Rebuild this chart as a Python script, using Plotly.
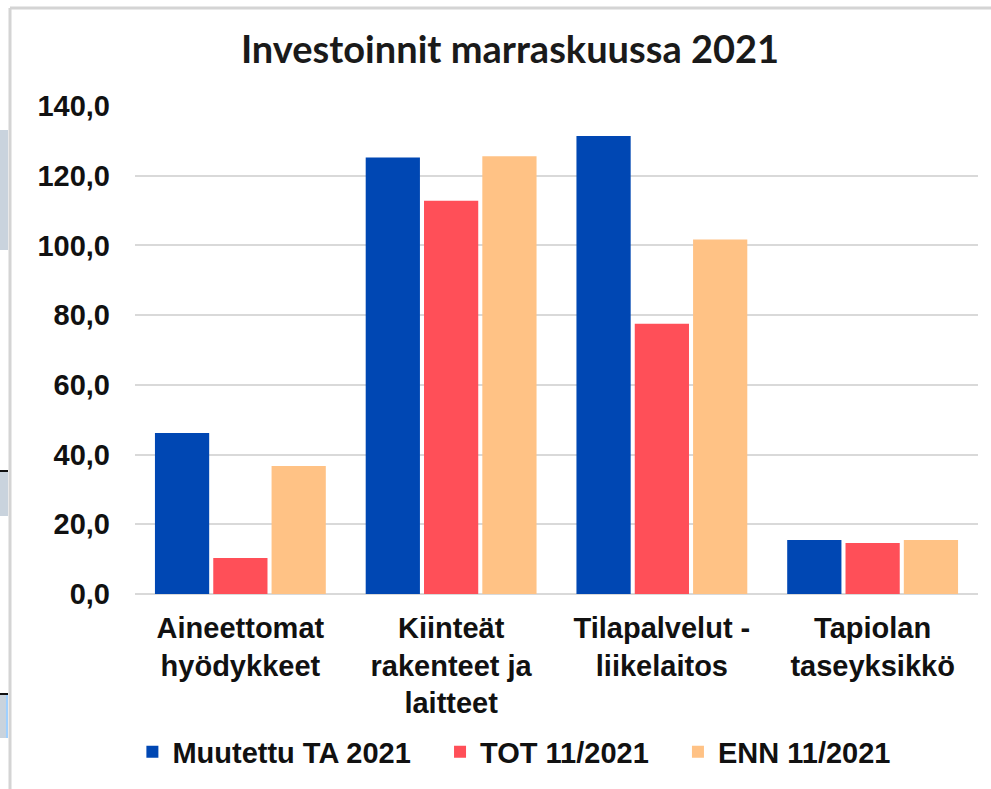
import plotly.graph_objects as go

categories = ["Aineettomat<br>hyödykkeet", "Kiinteät<br>rakenteet ja<br>laitteet", "Tilapalvelut -<br>liikelaitos", "Tapiolan<br>taseyksikkö"]
muutettu_ta = [46.2, 125.2, 131.4, 15.5]
tot = [10.3, 112.8, 77.5, 14.6]
enn = [36.7, 125.6, 101.7, 15.5]
series_names = ["Muutettu TA 2021", "TOT 11/2021", "ENN 11/2021"]
colors = ["#0047B3", "#FF4F58", "#FFC285"]
tick_vals = [0, 20, 40, 60, 80, 100, 120, 140]
tick_text = ["0,0", "20,0", "40,0", "60,0", "80,0", "100,0", "120,0", "140,0"]

W, H = 991, 789
ML, MR, MT, MB = 135, 13, 106, 195
PW, PH = W - ML - MR, H - MT - MB

def px(x):
    return (x - ML) / PW

def py(y):
    return (H - MB - y) / PH

fig = go.Figure()
pad = "\u00a0\u00a0\u00a0"
for i, (name, vals, col) in enumerate(zip(series_names, [muutettu_ta, tot, enn], colors)):
    label = name + (pad if i < len(series_names) - 1 else "")
    fig.add_trace(go.Bar(x=categories, y=vals, name=label, marker=dict(color=col, line=dict(width=0))))

axis_font = dict(family="Liberation Sans, Arial, sans-serif", size=29, color="#111111", weight="bold")

shapes = [
    dict(type="line", xref="paper", yref="paper", x0=px(10), x1=px(10), y0=py(8), y1=py(789), line=dict(color="#d4d4d4", width=3)),
    dict(type="line", xref="paper", yref="paper", x0=px(10), x1=px(991), y0=py(8), y1=py(8), line=dict(color="#d4d4d4", width=3)),
    dict(type="rect", xref="paper", yref="paper", x0=px(0), x1=px(8), y0=py(130), y1=py(250), fillcolor="#c9d3dd", line=dict(width=0)),
    dict(type="rect", xref="paper", yref="paper", x0=px(0), x1=px(8), y0=py(471), y1=py(516), fillcolor="#c9d3dd", line=dict(width=0)),
    dict(type="line", xref="paper", yref="paper", x0=px(0), x1=px(8), y0=py(471), y1=py(471), line=dict(color="#111111", width=2)),
    dict(type="rect", xref="paper", yref="paper", x0=px(0), x1=px(8), y0=py(694), y1=py(738), fillcolor="#c9d3dd", line=dict(width=0)),
    dict(type="line", xref="paper", yref="paper", x0=px(0), x1=px(8), y0=py(694), y1=py(694), line=dict(color="#111111", width=2)),
    dict(type="line", xref="paper", yref="paper", x0=px(7), x1=px(7), y0=py(695), y1=py(738), line=dict(color="#9fd0ff", width=2)),
]

fig.update_layout(
    width=W, height=H,
    margin=dict(l=ML, r=MR, t=MT, b=MB),
    paper_bgcolor="white", plot_bgcolor="white",
    title=dict(text="Investoinnit marraskuussa 2021", x=510 / W, xanchor="center", y=1 - 50 / H, yanchor="middle",
               font=dict(family="Lato, sans-serif", size=38, color="#1a1a1a", weight="bold")),
    barmode="group", bargap=0.17, bargroupgap=0.07,
    xaxis=dict(tickfont=axis_font, showgrid=False, showline=False, ticks="", ticklabelstandoff=14),
    yaxis=dict(range=[0, 140], tickvals=tick_vals, ticktext=tick_text, tickfont=axis_font,
               showgrid=True, gridcolor="#d9d9d9", gridwidth=2, zeroline=True, zerolinecolor="#d9d9d9", zerolinewidth=2,
               showline=False, ticks="", ticklabelstandoff=24),
    legend=dict(orientation="h", x=446 / W, xanchor="center", y=py(752), yanchor="middle",
                font=dict(family="Liberation Sans, Arial, sans-serif", size=29, color="#111111", weight="bold"),
                itemwidth=30, traceorder="normal"),
    shapes=shapes,
)

fig.write_html("out.html", config={"displayModeBar": False},
               post_script="document.body.style.margin='0px';document.body.style.overflow='hidden';")
